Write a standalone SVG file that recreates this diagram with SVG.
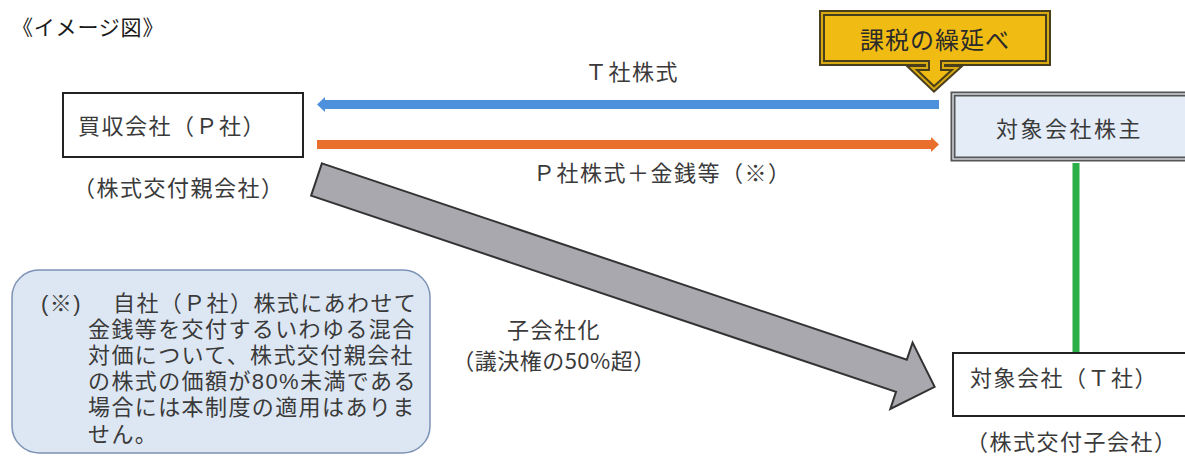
<svg xmlns="http://www.w3.org/2000/svg" width="1185" height="456" viewBox="0 0 1185 456">
<style>
text{font-family:"Noto Sans CJK JP","Noto Sans",sans-serif;fill:#3a3a3a;}
.l{font-size:22px;letter-spacing:1.5px;}
.n{font-family:"Liberation Sans","Noto Sans CJK JP",sans-serif;font-size:22px;letter-spacing:1.4px;}
.box{fill:#fff;stroke:#222;stroke-width:2;}
</style>
<rect width="1185" height="456" fill="#fff"/>
<text x="12" y="35" style="font-size:21px;letter-spacing:0.8px;fill:#1a1a1a">《イメージ図》</text>

<g id="connectors">
  <path d="M325,100 H939 V109 H325 V112 L317,104.5 L325,97 Z" fill="#4D90DC"/>
  <path d="M317,140 H931 V137 L939,144.5 L931,152 V149 H317 Z" fill="#E9702C"/>
  <line x1="1076" y1="163" x2="1076" y2="353" stroke="#2AAE48" stroke-width="7"/>
  <polygon transform="translate(316.5,179.5) rotate(18.55)" points="0,-17 617,-17 617,-35 652,0 617,35 617,17 0,17" fill="#A9A8AF" stroke="#333" stroke-width="2" stroke-linejoin="miter"/>
  <text class="l" x="585" y="80">Ｔ社株式</text>
  <text class="l" x="533" y="181">Ｐ社株式＋金銭等（※）</text>
  <text class="l" x="554" y="338" text-anchor="middle">子会社化</text>
  <text class="l" x="554" y="369" text-anchor="middle" style="letter-spacing:0.5px">（議決権の50%超）</text>
</g>

<g id="node-p">
  <rect class="box" x="63" y="93" width="240" height="64"/>
  <text class="l" x="78" y="134">買収会社（Ｐ社）</text>
  <text class="l" x="73" y="196">（株式交付親会社）</text>
</g>

<g id="node-callout">
  <path d="M822,13 H1048 V63 H943 V68 H957 L934,89 L912,68 H927 V63 H822 Z" fill="#F0BC14" stroke="#4a3f1c" stroke-width="6" stroke-linejoin="miter"/>
  <path d="M822,13 H1048 V63 H943 V68 H957 L934,89 L912,68 H927 V63 H822 Z" fill="none" stroke="#D8A910" stroke-width="2"/>
  <text x="935" y="49" text-anchor="middle" style="font-size:24px;letter-spacing:1px;fill:#2a2a2a">課税の繰延べ</text>
</g>

<g id="node-shareholders">
  <rect x="953" y="94" width="240" height="65" fill="#E3ECF7" stroke="#555" stroke-width="5"/>
  <rect x="953" y="94" width="240" height="65" fill="none" stroke="#cfd4da" stroke-width="1.5"/>
  <text class="l" x="996" y="137" style="letter-spacing:2.5px">対象会社株主</text>
</g>

<g id="node-t">
  <rect class="box" x="953" y="353" width="240" height="63"/>
  <text class="l" x="970" y="386">対象会社（Ｔ社）</text>
  <text class="l" x="966" y="450">（株式交付子会社）</text>
</g>

<g id="note">
  <rect x="12" y="270" width="418" height="183" rx="27" fill="#DDE7F3" stroke="#7D93B5" stroke-width="1.5"/>
  <text class="n"><tspan x="41" y="310.5">(※)</tspan><tspan x="113" y="310.5">自社（Ｐ社）株式にあわせて</tspan><tspan x="88" y="336.7">金銭等を交付するいわゆる混合</tspan><tspan x="88" y="362.9">対価について、株式交付親会社</tspan><tspan x="88" y="389.1">の株式の価額が80%未満である</tspan><tspan x="88" y="415.3">場合には本制度の適用はありま</tspan><tspan x="88" y="441.5">せん。</tspan></text>
</g>
</svg>
